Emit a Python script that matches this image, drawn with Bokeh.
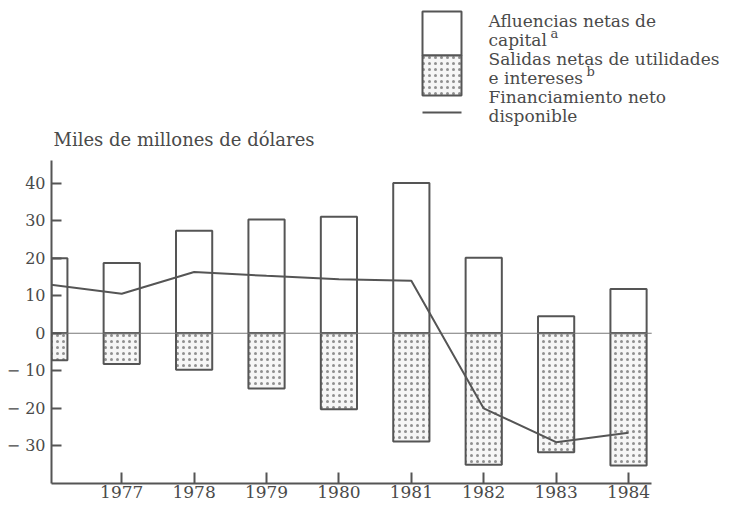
from bokeh.plotting import figure
from bokeh.layouts import column
from bokeh.models import Range1d, FixedTicker
from bokeh.core.properties import value
from bokeh.embed import file_html
from bokeh.resources import INLINE

# ---- data (miles de millones de dólares) ----
years = [1976, 1977, 1978, 1979, 1980, 1981, 1982, 1983, 1984]
afluencias = [20.0, 18.7, 27.3, 30.3, 31.0, 40.0, 20.1, 4.5, 11.8]
salidas = [-7.2, -8.2, -9.7, -14.7, -20.2, -28.8, -35.0, -31.7, -35.2]
financiamiento = [13.0, 10.5, 16.3, 15.3, 14.4, 14.0, -20.0, -29.0, -26.5]
x_ticks = [1977, 1978, 1979, 1980, 1981, 1982, 1983, 1984]
y_ticks = [-30, -20, -10, 0, 10, 20, 30, 40]
y_tick_labels = ["\u2212 30", "\u2212 20", "\u2212 10", "0", "10", "20", "30", "40"]
title_text = "Miles de millones de dólares"
legend_lines = ["Afluencias netas de", "capital", "Salidas netas de utilidades",
                "e intereses", "Financiamiento neto", "disponible"]
legend_notes = ["a", "b"]

INK = "#555555"
TXT = "#4a4a4a"
SERIF = value("DejaVu Serif")

W = 726
LEFT = 51
OX, OY = 2, 0           # observed page origin of the layout
HEAD_H = 158
MAIN_H = 342

# ---- header: title + legend (coordinates in page pixels) ----
head = figure(width=W, height=HEAD_H, x_range=Range1d(OX + LEFT, OX + W),
              y_range=Range1d(OY + HEAD_H, OY),
              x_axis_type=None, y_axis_type=None, toolbar_location=None,
              output_backend="svg", min_border_left=LEFT, min_border_right=0,
              min_border_top=0, min_border_bottom=0, outline_line_color=None)
head.grid.visible = False

head.quad(left=[424], right=[463], top=[11], bottom=[55],
          fill_color="white", line_color=INK, line_width=2)
head.quad(left=[424], right=[463], top=[55], bottom=[95],
          fill_color="#f6f6f6", line_color=INK, line_width=2,
          hatch_pattern="dot", hatch_scale=6, hatch_weight=1.4, hatch_color="#909090")
head.segment(x0=[424], y0=[112], x1=[463], y1=[112], line_color=INK, line_width=2)

rows = [20, 39, 58, 77, 96, 115]
head.text(x=[490] * 6, y=rows, text=legend_lines, text_font=SERIF,
          text_font_size="17px", text_baseline="middle", text_color=TXT)
head.text(x=[552, 588], y=[rows[1] - 6, rows[3] - 6], text=legend_notes, text_font=SERIF,
          text_font_size="13px", text_baseline="middle", text_color=TXT)
head.text(x=[55], y=[139], text=[title_text], text_font=SERIF,
          text_font_size="18px", text_baseline="middle", text_color=TXT)

# ---- main chart ----
X_START = 1976.03
X_AXIS_END = 1984.32
PX_PER_YEAR = 72.4
X_END = X_START + (W - LEFT) / PX_PER_YEAR

p = figure(width=W, height=MAIN_H, x_range=Range1d(X_START, X_END),
           y_range=Range1d(-40, 46), toolbar_location=None, output_backend="svg",
           min_border_left=LEFT, min_border_right=0, min_border_top=2,
           min_border_bottom=16, outline_line_color=None)
p.grid.visible = False

p.vbar(x=years, width=0.5, top=afluencias, bottom=0,
       fill_color="white", line_color=INK, line_width=2)
p.vbar(x=years, width=0.5, top=0, bottom=salidas,
       fill_color="#f6f6f6", line_color=INK, line_width=2,
       hatch_pattern="dot", hatch_scale=6, hatch_weight=1.4, hatch_color="#909090")
p.segment(x0=[X_START], x1=[X_AXIS_END], y0=[0], y1=[0],
          line_color="#777777", line_width=1.2)
p.line(years, financiamiento, line_color=INK, line_width=2)

xa = p.xaxis[0]
xa.bounds = (X_START, X_AXIS_END)
xa.ticker = FixedTicker(ticks=x_ticks)
xa.minor_tick_line_color = None
xa.major_tick_in = 11
xa.major_tick_out = 0
xa.major_tick_line_color = INK
xa.major_tick_line_width = 2
xa.axis_line_color = INK
xa.axis_line_width = 2
xa.major_label_text_font = "DejaVu Serif"
xa.major_label_text_font_size = "17px"
xa.major_label_text_color = TXT
xa.major_label_standoff = 2

ya = p.yaxis[0]
ya.ticker = FixedTicker(ticks=y_ticks)
ya.major_label_overrides = dict(zip(y_ticks, y_tick_labels))
ya.minor_tick_line_color = None
ya.major_tick_in = 10
ya.major_tick_out = 0
ya.major_tick_line_color = INK
ya.major_tick_line_width = 2
ya.axis_line_color = INK
ya.axis_line_width = 2
ya.major_label_text_font = "DejaVu Serif"
ya.major_label_text_font_size = "16px"
ya.major_label_text_color = TXT
ya.major_label_standoff = 6

layout = column(head, p, spacing=0)
open("out.html", "w").write(file_html(layout, INLINE))
